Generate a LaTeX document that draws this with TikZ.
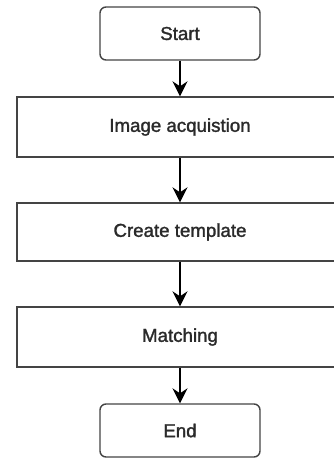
\documentclass[tikz,border=0pt]{standalone}
\usepackage{fontspec}
\setmainfont{Liberation Sans}
\newfontfamily\boxfont{Liberation Sans}[RawFeature={embolden=1.5}]
\usetikzlibrary{arrows.meta}
\definecolor{edge}{HTML}{444444}
\definecolor{label}{HTML}{2A2A2A}
\tikzset{
  stepbox/.style={draw=edge, line width=1.4pt, fill=white, text=label,
    font=\boxfont\fontsize{18.7}{22}\selectfont, inner sep=0pt, anchor=center},
  terminal/.style={stepbox, rounded corners=6pt, minimum width=160pt, minimum height=53pt},
  process/.style={stepbox, minimum width=326pt},
  flow/.style={draw=black, line width=1.3pt,
    -{Stealth[length=15pt, width=15pt, inset=5pt]}}
}
\begin{document}
\begin{tikzpicture}[x=1pt, y=-1pt]
  \useasboundingbox (0,0) rectangle (334,459);
  \clip (0,0) rectangle (334,459);
  \fill[white] (0,0) rectangle (334,459);

  \node[terminal] (start) at (180,33.5) {Start};
  \node[process, minimum height=60pt] (acq) at (180,127) {Image acquistion};
  \node[process, minimum height=58pt] (tmpl) at (180,232) {Create template};
  \node[process, minimum height=60pt] (match) at (180,337) {Matching};
  \node[terminal] (end) at (180,430.5) {End};

  \draw[flow] (start) -- (acq);
  \draw[flow] (acq) -- (tmpl);
  \draw[flow] (tmpl) -- (match);
  \draw[flow] (match) -- (end);
\end{tikzpicture}
\end{document}
